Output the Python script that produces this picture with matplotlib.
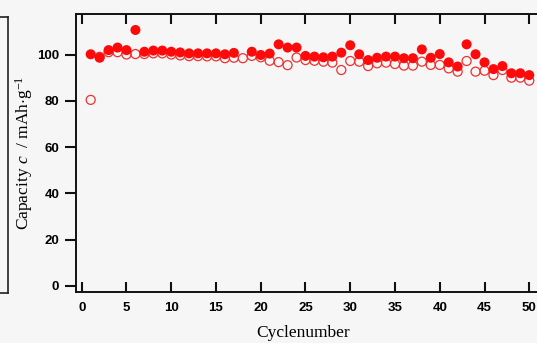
import numpy as np
import matplotlib
matplotlib.use("Agg")
import matplotlib.pyplot as plt

# cycle number and capacity (mAh/g)
cycles = np.arange(1, 51)
# filled circles; no filled point is visible at cycle 18 (None)
charge = [100.1, 98.6, 101.9, 103.0, 101.9, 110.6, 101.2, 101.7, 101.7, 101.2,
          100.9, 100.5, 100.5, 100.5, 100.5, 100.1, 100.7, None, 101.2, 99.8,
          100.4, 104.4, 103.0, 103.0, 99.4, 99.1, 98.8, 99.1, 100.8, 104.0,
          100.1, 97.6, 98.6, 99.1, 99.1, 98.4, 98.4, 102.2, 98.6, 100.2,
          96.6, 94.8, 104.4, 100.1, 96.6, 93.7, 95.0, 91.9, 91.9, 91.1]
# open circles
discharge = [80.4, 99.0, 101.0, 101.0, 100.0, 100.2, 100.2, 100.5, 100.5, 100.0,
             99.6, 99.3, 99.3, 99.2, 99.2, 98.4, 98.6, 98.4, 99.4, 98.8,
             97.3, 96.7, 95.4, 98.7, 97.6, 97.3, 96.9, 96.5, 93.3, 97.2,
             96.9, 95.0, 96.2, 96.5, 95.9, 95.2, 95.2, 96.9, 95.5, 95.5,
             94.0, 92.6, 97.2, 92.6, 93.0, 91.1, 93.3, 90.0, 90.0, 88.7]
xticks = np.arange(0, 51, 5)
yticks = np.arange(0, 101, 20)

# keep only the cycles that have a filled point (no NaN handed to scatter)
ch_x = [c for c, v in zip(cycles, charge) if v is not None]
ch_y = [v for v in charge if v is not None]

plt.rcParams["mathtext.fontset"] = "custom"
plt.rcParams["mathtext.rm"] = "Liberation Serif"
plt.rcParams["mathtext.it"] = "Liberation Serif:italic"

W, H = 537, 343
bg = "#f5f6f5"
fig = plt.figure(figsize=(W / 100, H / 100), dpi=100)
fig.patch.set_facecolor(bg)

ax = fig.add_axes([76 / W, 1 - 292 / H, (540 - 76) / W, (292 - 14) / H])
ax.set_facecolor(bg)
ax.scatter(cycles, discharge, s=42, facecolors="none", edgecolors="#f03030",
           linewidths=0.9, zorder=2)
ax.scatter(ch_x, ch_y, s=52, color="#ff0a0a", edgecolors="none", zorder=3)
ax.set_xlim(-0.64, 51.2)
ax.set_ylim(-2.6, 117.5)
ax.set_xticks(xticks)
ax.set_yticks(yticks)
ax.tick_params(axis="x", direction="in", length=7.5, width=1.5, color="#111111",
               top=True, pad=7)
ax.tick_params(axis="y", direction="out", length=8, width=1.5, color="#111111",
               pad=4)
for lab in ax.get_xticklabels() + ax.get_yticklabels():
    lab.set_fontfamily("Liberation Sans")
    lab.set_fontweight("bold")
    lab.set_fontsize(9.5)
for s in ax.spines.values():
    s.set_linewidth(1.4); s.set_color("#111111")

ax.set_xlabel("Cyclenumber", family="Liberation Serif", size=12.5)
ax.xaxis.set_label_coords((303 - 76) / (540 - 76), -(333 - 292) / (292 - 14),
                          transform=ax.transAxes)
ax.xaxis.label.set_va("center")
ax.set_ylabel(r"Capacity $\it{c}$  / mAh$\cdot$g$^{\mathregular{-1}}$",
              family="Liberation Serif", size=12.5)
ax.yaxis.set_label_coords(-(76 - 24) / (540 - 76), 0.5, transform=ax.transAxes)
ax.yaxis.label.set_va("center")

# remnant of neighbouring panel on the left edge
ax0 = fig.add_axes([-0.2, 1 - 293 / H, 0.2 + 8 / W, (293 - 17) / H])
ax0.set_facecolor(bg)
ax0.set_xticks([]); ax0.set_yticks([])
for s in ax0.spines.values():
    s.set_linewidth(1.2); s.set_color("#222222")

fig.savefig("out.png", dpi=100, facecolor=bg)
